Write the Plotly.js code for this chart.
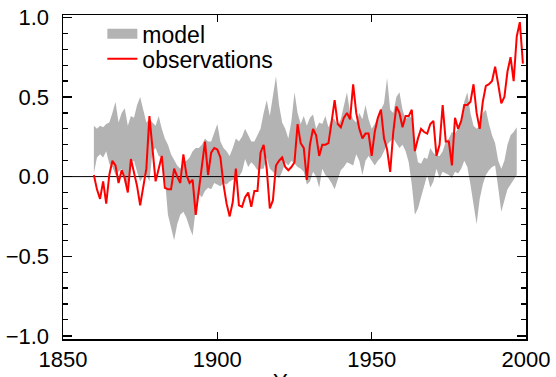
<!DOCTYPE html>
<html>
<head>
<meta charset="utf-8">
<script src="https://cdn.plot.ly/plotly-3.0.1.min.js"></script>
<style>html,body{margin:0;padding:0;background:#fff;}#chart{width:556px;height:377px;}</style>
</head>
<body>
<div id="chart"></div>
<script>
// Observations (annual), 1860-1999
const obsStart = 1860;
const obsValues = [
 0.01,-0.08,-0.14,-0.03,-0.17, 0.01, 0.10, 0.07,-0.04, 0.04,
-0.01,-0.10, 0.11, 0.02,-0.06,-0.18,-0.06, 0.05, 0.38, 0.15,
-0.03, 0.05, 0.13,-0.07,-0.08,-0.08, 0.05, 0.00,-0.04, 0.14,
 0.01,-0.04,-0.02,-0.24,-0.08, 0.05, 0.22, 0.01, 0.15, 0.18,
 0.17, 0.12,-0.05,-0.17,-0.25,-0.16, 0.05,-0.18,-0.19,-0.13,
-0.10,-0.19,-0.09,-0.09, 0.15, 0.20, 0.05,-0.20,-0.15, 0.07,
 0.10, 0.12, 0.06, 0.04, 0.06, 0.09, 0.33, 0.21, 0.18,-0.02,
 0.20, 0.30, 0.26, 0.13, 0.20, 0.20, 0.21, 0.34, 0.48, 0.33,
 0.31, 0.37, 0.40, 0.36, 0.58, 0.40, 0.30, 0.24, 0.27, 0.27,
 0.13, 0.28, 0.37, 0.42, 0.24, 0.17, 0.03, 0.28, 0.44, 0.40,
 0.31, 0.38, 0.38, 0.42, 0.16, 0.24, 0.30, 0.28, 0.27, 0.33,
 0.35, 0.13, 0.20, 0.45, 0.22, 0.22, 0.07, 0.37, 0.30, 0.35,
 0.45, 0.45, 0.47, 0.58, 0.40, 0.30, 0.47, 0.57, 0.58, 0.60,
 0.69, 0.58, 0.46, 0.50, 0.66, 0.75, 0.60, 0.88, 0.97, 0.71
];

// Model ensemble range (annual), 1860-1997
const modelStart = 1860;
const modelUpper = [
 0.32,0.30,0.32,0.31,0.33,0.34,0.40,0.47,0.34,0.40,
 0.43,0.32,0.38,0.37,0.45,0.50,0.42,0.34,0.36,0.34,
 0.32,0.38,0.30,0.24,0.20,0.14,0.10,0.07,0.05,0.09,
 0.10,0.12,0.16,0.18,0.18,0.20,0.24,0.22,0.22,0.28,
 0.33,0.22,0.18,0.16,0.13,0.18,0.24,0.22,0.25,0.30,
 0.26,0.22,0.22,0.26,0.30,0.40,0.48,0.38,0.52,0.63,
 0.45,0.34,0.30,0.24,0.35,0.53,0.40,0.33,0.38,0.32,
 0.37,0.39,0.30,0.34,0.33,0.38,0.31,0.36,0.36,0.32,
 0.36,0.45,0.53,0.40,0.36,0.34,0.40,0.36,0.45,0.36,
 0.30,0.33,0.38,0.42,0.46,0.62,0.42,0.40,0.50,0.53,
 0.42,0.36,0.38,0.37,0.20,0.09,0.08,0.12,0.11,0.18,
 0.15,0.13,0.13,0.16,0.22,0.24,0.28,0.27,0.30,0.34,
 0.47,0.53,0.40,0.32,0.30,0.32,0.40,0.42,0.33,0.26,
 0.21,0.10,0.05,0.10,0.20,0.26,0.28,0.31
];
const modelLower = [
 0.02,0.12,0.14,0.12,0.16,0.08,0.06,0.01,0.03,0.05,
-0.04,-0.05,0.09,0.10,0.03,-0.03,0.00,0.01,-0.03,0.16,
 0.18,0.13,0.12,-0.01,-0.24,-0.32,-0.40,-0.30,-0.24,-0.22,
-0.26,-0.32,-0.37,-0.20,-0.11,-0.13,-0.09,-0.07,-0.08,-0.04,
-0.05,-0.06,-0.04,-0.05,-0.03,-0.02,-0.01,0.00,0.03,0.11,
 0.06,0.09,0.07,0.04,0.05,0.05,0.12,0.05,0.03,0.01,
-0.01,0.03,0.09,0.07,0.10,0.08,0.06,0.05,0.03,-0.05,
-0.03,0.03,0.00,-0.07,0.05,0.01,-0.01,-0.04,-0.08,-0.02,
 0.04,0.06,0.09,0.08,0.07,0.14,0.10,0.01,0.10,0.13,
 0.10,0.07,0.10,0.12,0.16,0.20,0.22,0.24,0.21,0.18,
 0.20,0.16,0.09,-0.05,-0.24,-0.20,-0.13,-0.06,0.01,-0.07,
-0.03,0.05,-0.01,0.03,0.02,0.01,-0.01,0.03,0.02,0.05,
 0.10,0.06,-0.05,-0.18,-0.30,-0.14,-0.05,0.01,0.04,0.06,
 0.07,-0.07,-0.22,-0.15,-0.08,-0.05,-0.02,0.01
];

const xRange = [1850, 2000];
const yRange = [-1.02, 1.015];
const yTickVals = [-1.0, -0.5, 0.0, 0.5, 1.0];
const xTickVals = [1850, 1900, 1950, 2000];
const zeroLevel = 0;
const xTitle = 'Year';

const obsYears = obsValues.map((_, i) => obsStart + i);
const modelYears = modelUpper.map((_, i) => modelStart + i);

const GRAY = '#b3b3b3';
const RED = '#ff0000';
const FONT = 'Liberation Sans, Arial, Helvetica, sans-serif';

const traces = [
  {x: modelYears, y: modelLower, type: 'scatter', mode: 'lines',
   line: {width: 0, color: GRAY}, showlegend: false, hoverinfo: 'skip'},
  {x: modelYears, y: modelUpper, type: 'scatter', mode: 'lines', fill: 'tonexty',
   fillcolor: GRAY, line: {width: 0, color: GRAY}, showlegend: false, hoverinfo: 'skip'},
  {x: xRange, y: [zeroLevel, zeroLevel], type: 'scatter', mode: 'lines',
   line: {color: '#000', width: 1}, showlegend: false, hoverinfo: 'skip'},
  {x: [null], y: [null], type: 'scatter', mode: 'lines', name: 'model', legend: 'legend',
   line: {color: GRAY, width: 10}},
  {x: obsYears, y: obsValues, type: 'scatter', mode: 'lines', name: 'observations', legend: 'legend2',
   line: {color: RED, width: 2}}
];

const legendFont = {family: FONT, size: 23, color: '#000'};
const layout = {
  width: 556, height: 377,
  margin: {l: 63, r: 30, t: 12, b: 38},
  paper_bgcolor: '#fff', plot_bgcolor: '#fff',
  font: {family: FONT, size: 22, color: '#000'},
  showlegend: true,
  legend: {x: 0.085, y: 1.008, xanchor: 'left', yanchor: 'top',
           bgcolor: 'rgba(0,0,0,0)', borderwidth: 0, font: legendFont},
  legend2: {x: 0.085, y: 0.931, xanchor: 'left', yanchor: 'top',
           bgcolor: 'rgba(0,0,0,0)', borderwidth: 0, font: legendFont},
  annotations: [{text: xTitle, xref: 'paper', yref: 'paper', x: 0.5, y: 0,
                 xanchor: 'center', yanchor: 'top', yshift: -28, showarrow: false,
                 font: {family: FONT, size: 22, color: '#000'}}],
  xaxis: {range: xRange, tickvals: xTickVals, ticks: 'inside', ticklen: 7,
          tickwidth: 1.4, tickcolor: '#000', showline: true, linecolor: '#000',
          linewidth: 1.5, mirror: 'allticks', showgrid: false, zeroline: false,
          tickfont: {family: FONT, size: 22, color: '#000'}},
  yaxis: {range: yRange, tickvals: yTickVals, tickformat: '.1f', ticks: 'inside', ticklen: 9,
          tickwidth: 1.4, tickcolor: '#000', showline: true, linecolor: '#000',
          linewidth: 1.5, mirror: 'allticks', showgrid: false, zeroline: false,
          ticklabelstandoff: 8,
          minor: {dtick: 0.1, tick0: 0, ticks: 'inside', ticklen: 5, tickwidth: 1.2, tickcolor: '#000', showgrid: false},
          tickfont: {family: FONT, size: 22, color: '#000'}}
};

Plotly.newPlot('chart', traces, layout, {displayModeBar: false, staticPlot: true});
</script>
</body>
</html>
